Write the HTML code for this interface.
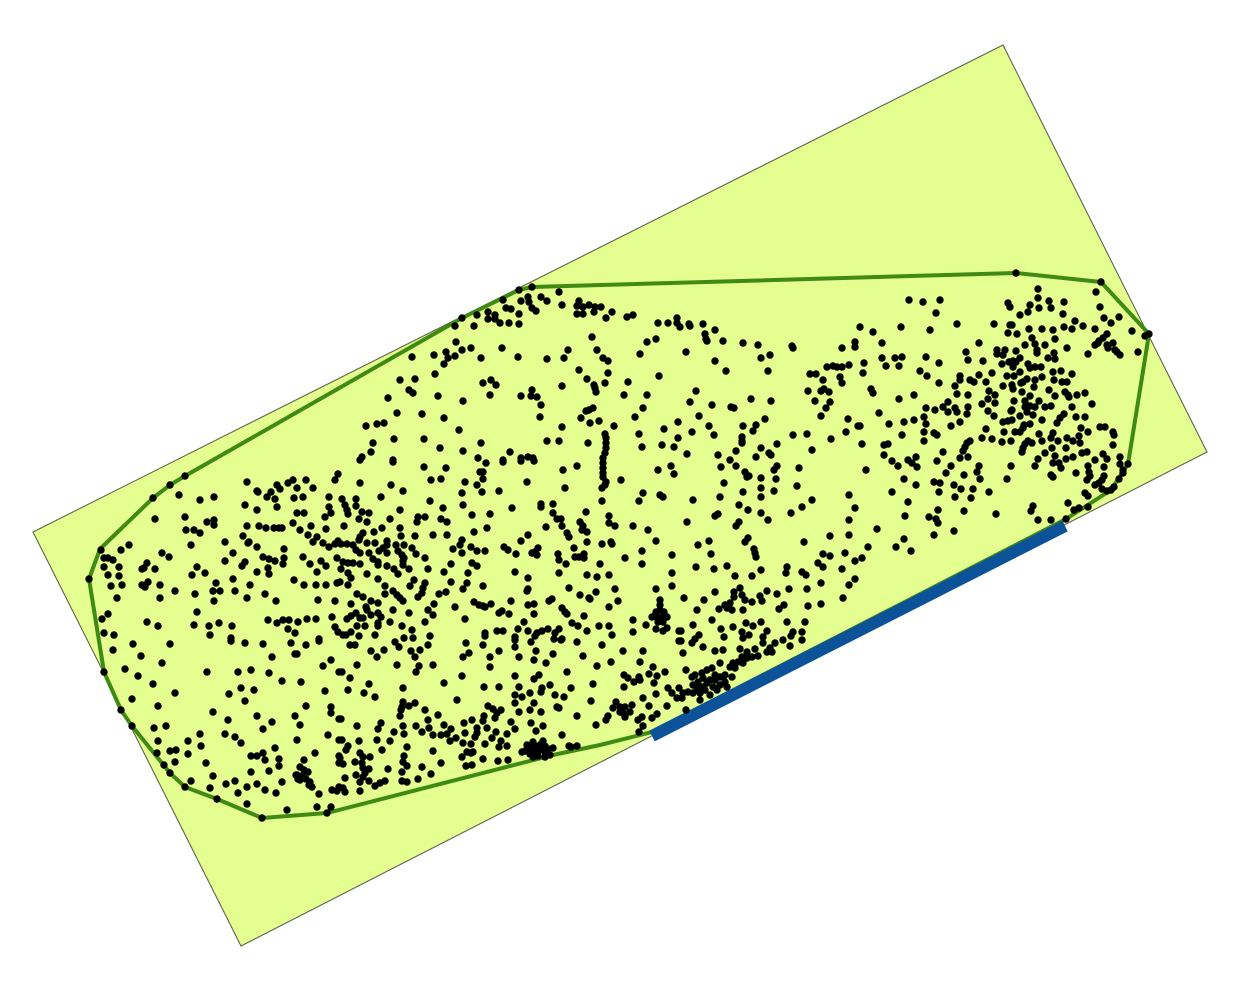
<!DOCTYPE html>
<html lang="en">
<head>
<meta charset="utf-8">
<title>Minimum bounding rectangle of a point cloud</title>
<style>
html,body{margin:0;padding:0;background:#fff;width:1242px;height:986px;overflow:hidden}
svg{display:block}
</style>
</head>
<body>
<svg id="chart" xmlns="http://www.w3.org/2000/svg" width="1242" height="986" viewBox="0 0 1242 986"></svg>
<script>
const xDomain = [0, 1242];
const yDomain = [0, 986];
const rectangleCorners = [[1003,45],[1207,452],[241,946],[33,532]];
const flushEdge = [[652,736],[1065,526]];
const hullVertices = [[100,549],[89,579],[104,672],[121,710],[132,726],[170,773],[185,787],[217,799],[262,818],[327,813],[553,755],[600,745],[652,732],[1066,519],[1111,490],[1128,464],[1149,334],[1101,282],[1016,273],[532,287],[519,290],[462,318],[185,476],[170,485],[153,498]];

const pointsWest = [[185,476],[170,485],[153,498],[179,495],[200,500],[214,497],[247,482],[257,491],[258,492],[271,492],[267,497],[277,485],[275,499],[277,507],[245,505],[257,510],[155,519],[185,517],[207,522],[214,520],[214,525],[247,526],[259,526],[266,528],[274,528],[279,528],[186,530],[194,530],[200,533],[243,536],[248,543],[249,542],[225,542],[191,545],[257,547],[101,550],[121,550],[129,545],[162,553],[169,557],[233,553],[263,557],[269,559],[275,561],[104,558],[108,558],[113,560],[225,561],[245,562],[242,566],[147,563],[104,567],[119,567],[197,567],[142,569],[144,568],[155,569],[268,568],[257,572],[269,574],[192,575],[205,573],[108,575],[119,576],[89,579],[233,579],[148,582],[142,585],[145,587],[111,586],[122,585],[160,585],[216,583],[250,585],[175,591],[213,591],[220,591],[235,591],[195,594],[265,594],[160,598],[117,598],[247,598],[214,601],[276,601],[197,612],[108,614],[102,619],[147,622],[158,626],[194,625],[209,626],[219,623],[232,626],[268,620],[277,623],[104,633],[114,635],[210,635],[231,638]];

const pointsSouthWest = [[113,650],[133,644],[170,644],[141,656],[162,663],[231,641],[245,643],[263,644],[291,643],[306,645],[319,641],[272,657],[295,654],[297,654],[331,660],[323,666],[104,672],[125,669],[138,676],[153,684],[207,672],[238,672],[251,670],[269,673],[282,681],[301,682],[339,672],[241,688],[254,690],[229,694],[175,693],[325,691],[132,699],[245,701],[158,706],[306,706],[331,707],[331,713],[121,710],[213,712],[257,716],[295,716],[339,719],[228,720],[272,722],[300,725],[132,726],[154,728],[166,726],[263,729],[200,734],[225,734],[235,737],[328,735],[158,741],[188,741],[241,743],[297,740],[339,740],[201,746],[275,748],[170,751],[176,750],[157,753],[188,754],[315,753],[251,756],[257,756],[263,753],[265,760],[279,759],[304,760],[339,756],[339,763],[175,762],[206,763],[164,765],[279,766],[269,771],[251,772],[170,773],[300,767],[304,770],[297,775],[302,776],[308,772],[300,780],[306,779],[310,782],[309,785],[312,787],[296,775],[298,779],[213,776],[191,781],[235,781],[185,787],[226,784],[257,784],[282,782],[247,787],[210,788],[265,790],[238,793],[276,793],[319,794],[332,790],[337,791],[339,787],[217,799],[247,804],[317,807],[331,807],[287,810],[327,813],[262,818]];

const pointsMidWest = [[360,460],[393,462],[424,467],[446,468],[480,472],[338,474],[335,480],[293,480],[288,483],[306,480],[297,488],[313,488],[280,489],[360,483],[391,485],[403,491],[431,480],[441,479],[465,482],[477,485],[462,493],[381,497],[329,497],[303,497],[294,498],[342,499],[356,499],[345,505],[347,510],[348,514],[356,506],[329,507],[331,513],[325,517],[362,512],[369,513],[359,519],[297,513],[304,513],[400,510],[430,501],[463,505],[443,508],[472,515],[390,519],[367,522],[418,517],[417,522],[425,517],[441,519],[447,522],[293,523],[344,526],[311,526],[282,528],[326,529],[300,530],[382,528],[400,528],[474,532],[374,532],[308,535],[363,533],[360,537],[359,540],[317,537],[313,542],[401,536],[415,536],[433,535],[447,535],[323,543],[329,547],[338,541],[335,544],[341,544],[347,544],[353,545],[367,543],[375,543],[387,541],[387,545],[396,545],[404,545],[462,540],[460,545],[471,547],[383,548],[379,551],[356,550],[360,553],[369,553],[412,548],[416,554],[398,551],[402,555],[404,558],[453,549],[462,553],[477,551],[284,549],[284,558],[387,553],[303,557],[337,558],[373,559],[378,562],[378,565],[425,558],[343,562],[348,563],[353,563],[321,561],[326,566],[310,564],[283,564],[360,564],[403,561],[403,565],[387,566],[394,569],[398,574],[409,569],[451,564],[472,563],[477,566],[341,569],[428,569],[317,572],[444,572],[348,573],[351,578],[367,574],[468,573],[378,579],[294,580],[414,580],[410,586],[425,583],[423,588],[451,582],[467,583],[463,589],[304,585],[316,585],[326,585],[337,583],[340,582],[348,585],[385,586],[393,591],[397,595],[400,598],[403,601],[385,594],[357,594],[363,597],[422,593],[418,597],[439,594],[446,592],[318,600],[335,601],[371,601],[378,603],[351,604],[366,607],[434,604],[474,602],[479,605],[455,607],[428,610],[433,615],[393,610],[356,613],[351,616],[347,619],[367,610],[371,615],[363,618],[360,618],[378,613],[381,617],[378,623],[378,626],[409,613],[332,617],[465,619],[307,619],[316,619],[298,622],[289,620],[283,620],[390,622],[425,622],[365,626],[357,626],[402,626],[335,627],[338,632],[343,635],[351,632],[346,635],[288,629],[295,633],[412,630],[375,635],[359,636],[404,638],[413,638],[430,636],[319,639]];

const pointsSouth = [[350,645],[355,645],[371,651],[384,650],[377,657],[395,642],[399,647],[411,651],[415,657],[420,650],[428,645],[466,643],[483,645],[469,653],[463,657],[499,651],[490,657],[515,647],[519,657],[531,642],[536,651],[534,660],[515,640],[553,654],[546,663],[577,642],[583,656],[561,640],[357,665],[397,665],[419,666],[416,672],[433,665],[490,667],[567,672],[597,666],[342,672],[350,678],[462,676],[515,676],[539,675],[534,679],[444,683],[369,684],[403,688],[484,687],[499,687],[519,687],[550,685],[571,688],[593,684],[348,690],[364,693],[375,697],[542,688],[541,692],[530,693],[515,695],[522,697],[555,695],[564,697],[457,700],[515,703],[534,703],[591,701],[403,702],[402,707],[401,710],[415,703],[409,706],[488,706],[493,709],[501,710],[497,713],[495,718],[557,707],[559,708],[425,710],[519,712],[530,710],[541,712],[438,715],[400,716],[577,716],[484,716],[483,721],[472,720],[464,723],[341,719],[428,720],[511,722],[381,723],[378,729],[531,723],[357,726],[403,726],[416,726],[444,725],[487,728],[543,726],[596,725],[429,728],[477,728],[477,733],[475,737],[515,729],[536,731],[465,733],[394,732],[422,732],[433,735],[451,729],[447,734],[441,735],[496,732],[404,734],[507,734],[562,735],[492,738],[456,738],[450,741],[342,740],[359,741],[377,740],[390,741],[501,741],[499,747],[507,746],[463,743],[471,744],[485,744],[348,746],[346,750],[407,747],[569,746],[571,747],[577,746],[382,750],[433,751],[467,752],[473,752],[471,753],[525,751],[530,748],[530,754],[527,745],[533,742],[535,746],[535,752],[538,756],[540,745],[540,750],[543,741],[545,746],[545,752],[548,749],[550,755],[553,748],[545,757],[533,757],[522,752],[360,753],[355,762],[370,757],[363,757],[340,758],[343,764],[404,756],[403,762],[407,766],[462,757],[483,759],[498,761],[508,760],[441,763],[362,763],[363,768],[369,769],[365,773],[466,766],[472,765],[388,769],[422,767],[402,772],[431,774],[356,775],[345,778],[418,779],[402,781],[407,782],[369,781],[360,782],[363,777],[385,781],[380,783],[375,786],[343,788],[345,792],[360,791]];

const pointsNorthCentral = [[532,287],[519,290],[559,292],[528,297],[521,301],[529,302],[532,308],[536,311],[503,300],[541,297],[547,301],[562,305],[579,301],[577,306],[589,305],[595,307],[601,307],[583,307],[506,308],[511,309],[488,312],[495,315],[477,315],[462,318],[519,314],[577,314],[583,314],[594,312],[612,312],[606,318],[488,319],[495,319],[500,323],[509,323],[519,324],[474,326],[455,326],[592,337],[456,342],[471,348],[502,348],[462,350],[446,352],[455,356],[448,358],[444,364],[434,355],[412,357],[481,358],[518,357],[547,359],[564,358],[568,350],[597,350],[603,358],[608,361],[579,370],[608,373],[435,374],[415,379],[400,380],[587,379],[491,380],[496,385],[483,383],[605,383],[594,385],[595,388],[596,392],[562,386],[409,390],[413,393],[532,390],[531,396],[537,397],[490,395],[438,396],[521,396],[388,398],[463,401],[541,405],[593,408],[589,410],[586,411],[397,413],[422,414],[444,418],[540,417],[581,418],[599,421],[590,423],[366,426],[377,424],[384,423],[562,427],[614,426],[459,430],[605,434],[606,438],[606,443],[606,448],[605,453],[603,458],[394,439],[424,439],[547,441],[559,441],[588,443],[373,443],[481,443],[440,448],[371,452],[463,451],[510,452],[528,457],[521,458],[533,458],[478,458],[503,460],[393,460],[362,457]];

const pointsCentral = [[486,463],[503,462],[521,461],[534,461],[577,466],[563,470],[603,463],[603,468],[603,473],[603,477],[606,482],[605,485],[602,488],[658,470],[671,466],[674,474],[621,480],[483,472],[483,479],[527,482],[565,488],[499,491],[482,492],[643,493],[639,501],[660,495],[663,497],[602,501],[541,504],[541,507],[553,504],[512,508],[553,513],[586,512],[609,516],[490,514],[557,519],[561,519],[580,522],[609,523],[615,526],[633,526],[583,526],[546,527],[562,526],[487,528],[648,530],[582,530],[587,532],[567,533],[569,537],[528,535],[521,541],[656,541],[587,542],[602,544],[611,542],[612,544],[504,547],[508,550],[538,548],[532,553],[537,555],[535,552],[574,548],[485,551],[642,551],[516,554],[558,554],[559,560],[584,554],[584,558],[575,557],[579,557],[625,558],[672,555],[600,564],[642,564],[566,564],[515,572],[559,573],[672,573],[587,575],[609,575],[597,577],[528,578],[483,586],[569,588],[615,589],[656,589],[672,586],[528,589],[527,591],[596,592],[580,595],[589,598],[590,599],[552,599],[549,601],[618,601],[511,601],[491,604],[483,606],[485,607],[528,605],[534,604],[609,607],[562,608],[565,612],[567,614],[502,611],[499,613],[509,614],[534,614],[584,616],[660,600],[660,605],[656,612],[660,610],[664,612],[652,617],[657,617],[662,617],[667,617],[658,622],[663,622],[633,620],[524,622],[646,625],[572,623],[578,626],[599,626],[609,626],[667,628],[656,629],[663,631],[518,629],[497,631],[503,631],[548,629],[542,631],[537,633],[535,636],[528,631],[559,629],[555,633],[587,631],[633,632],[485,633],[485,636],[612,635],[679,631],[515,637],[554,639],[562,639],[602,645],[679,641]];

const pointsSouthEastCluster = [[715,592],[684,598],[704,600],[740,588],[734,592],[734,597],[742,595],[745,600],[752,602],[760,596],[762,601],[767,591],[777,594],[789,589],[807,589],[730,603],[725,605],[727,608],[732,610],[719,609],[743,610],[697,610],[808,606],[784,605],[779,609],[712,620],[761,622],[787,622],[805,622],[746,623],[753,626],[693,625],[733,627],[721,629],[681,631],[767,631],[802,632],[793,632],[791,636],[742,632],[749,635],[743,638],[724,637],[699,635],[695,639],[692,643],[802,640],[783,640],[681,641],[763,637],[763,643],[775,643],[770,648],[767,652],[772,652],[790,646],[703,647],[683,653],[715,651],[723,650],[740,649],[755,649],[747,652],[758,656],[752,657],[742,657],[747,658],[738,662],[733,663],[730,667],[743,663],[735,668],[720,663],[686,670],[712,668],[707,670],[702,673],[695,675],[692,677],[732,677],[725,675],[720,677],[715,675],[710,680],[703,678],[698,682],[693,685],[725,682],[720,685],[713,687],[705,690],[700,693],[693,693],[688,692],[683,693],[700,700],[710,695],[717,690],[707,683],[697,688],[702,687],[715,680],[727,687],[679,688],[672,693],[668,688],[677,698],[682,698],[686,710],[624,675],[628,678],[634,682],[639,677],[640,680],[653,667],[649,674],[657,676],[665,672],[654,683],[640,662],[611,662],[623,651],[643,651],[624,687],[643,698],[656,694],[649,706],[667,706],[616,702],[613,708],[620,707],[625,707],[632,705],[630,712],[623,713],[620,712],[625,717],[608,716],[606,720],[657,714],[652,718],[642,717],[638,720],[643,726],[639,732]];

const pointsNorthEastCentral = [[627,317],[633,315],[658,323],[668,323],[677,318],[677,323],[680,327],[689,324],[690,326],[703,324],[715,330],[705,334],[706,339],[707,341],[656,339],[647,342],[723,341],[743,343],[758,345],[792,346],[793,348],[842,348],[855,342],[855,347],[860,327],[640,354],[686,352],[770,355],[761,358],[715,361],[827,367],[833,366],[837,367],[842,367],[849,365],[726,371],[768,371],[659,376],[810,374],[816,374],[840,377],[842,383],[823,380],[628,382],[696,391],[808,391],[821,391],[824,389],[829,392],[624,395],[647,395],[751,399],[771,401],[815,401],[830,402],[690,402],[712,405],[731,407],[734,408],[826,408],[643,408],[699,416],[821,416],[635,417],[765,419],[848,419],[678,422],[756,425],[753,431],[743,426],[709,426],[664,429],[858,426],[692,432],[639,434],[714,435],[846,432],[793,435],[807,434],[678,438],[831,439],[742,437],[742,441],[742,443],[777,444],[662,445],[674,447],[642,447],[761,448],[736,451],[812,450],[769,453],[771,455],[687,454],[718,455],[756,457],[730,460],[736,466],[777,466],[774,470],[721,467],[799,468]];

const pointsEastCentral = [[745,472],[747,477],[749,476],[761,478],[776,479],[866,470],[904,479],[916,485],[724,483],[761,488],[797,486],[743,492],[774,491],[892,492],[720,497],[761,497],[849,495],[693,500],[812,500],[908,502],[739,505],[802,507],[855,508],[748,510],[761,513],[791,513],[718,514],[715,516],[905,516],[768,520],[849,520],[687,522],[739,522],[736,526],[877,529],[830,536],[849,535],[748,538],[745,542],[709,541],[904,539],[804,542],[698,545],[868,547],[896,547],[911,551],[754,549],[755,553],[756,557],[845,553],[711,554],[823,554],[830,556],[862,558],[855,561],[818,563],[823,567],[727,566],[787,567],[786,573],[696,567],[714,569],[842,569],[761,570],[802,572],[806,575],[735,576],[752,576],[855,579],[821,583],[849,585],[843,598],[821,604]];

const pointsEast = [[923,302],[909,300],[940,300],[936,313],[901,327],[957,324],[994,324],[873,332],[930,330],[882,343],[979,343],[966,352],[997,350],[997,354],[882,358],[895,358],[902,357],[926,357],[939,363],[968,360],[983,361],[864,363],[886,366],[899,366],[863,373],[920,371],[927,376],[979,375],[992,373],[960,376],[960,380],[939,383],[970,380],[974,382],[986,382],[955,386],[871,389],[873,393],[989,391],[957,394],[914,395],[968,395],[995,395],[899,399],[988,399],[995,403],[948,402],[982,404],[926,408],[935,410],[943,407],[968,407],[955,408],[957,412],[948,412],[988,411],[879,413],[967,414],[994,416],[924,417],[914,420],[904,422],[960,422],[926,424],[889,424],[860,426],[951,426],[986,429],[924,432],[934,433],[937,435],[902,435],[982,438],[992,439],[970,441],[967,443],[965,447],[963,451],[924,441],[862,444],[888,444],[884,445],[943,452],[916,457],[884,455],[968,457],[960,458],[908,460],[912,463],[937,461],[892,461],[898,466],[917,467],[951,466],[979,466],[977,472],[946,473],[964,475],[980,479],[934,482],[940,483],[954,485],[961,489],[973,489],[989,492],[939,492],[955,497],[971,498],[938,510],[964,511],[996,514],[929,517],[936,519],[938,523],[954,531],[934,535]];

const pointsNorthEast = [[1016,273],[1101,282],[1096,292],[1038,289],[1038,298],[1049,301],[1064,302],[1008,303],[1010,307],[1030,305],[1039,308],[1051,308],[1100,307],[1028,312],[1020,315],[1063,314],[1104,318],[1119,317],[1111,323],[1075,321],[1010,325],[1008,333],[1012,325],[1064,327],[1072,329],[1083,326],[1095,329],[1029,329],[1042,329],[1053,330],[1132,331],[1017,334],[1149,334],[1145,336],[1107,334],[1103,338],[1099,341],[1095,345],[1098,343],[1113,343],[1107,345],[1108,348],[1115,350],[1120,355],[1117,352],[1032,338],[1055,339],[1035,344],[1025,345],[1045,345],[1067,348],[1037,350],[1037,353],[1005,350],[1003,355],[1016,351],[1054,353],[1048,358],[1055,359],[1088,354],[1138,352],[1020,358],[1013,361],[1009,362],[1002,364],[1013,367],[1016,362],[1028,364],[1030,368],[1035,367],[1041,367],[1061,371],[1053,372],[1072,374],[1020,372],[1007,376],[1014,376],[1042,377],[1054,380],[1027,379],[1023,382],[1021,383],[1035,380],[1062,382],[1067,382],[1003,386],[1012,385],[1013,389],[1034,387],[1049,390],[1022,392],[1065,392],[1068,395],[1069,397],[1077,395],[1085,393],[1030,396],[1055,396],[1014,401],[1039,401],[1025,401],[1092,404],[1025,407],[1030,406],[1035,407],[1045,407],[1051,406],[1072,407],[1012,410]];

const pointsFarEast = [[1011,411],[1033,415],[1027,412],[1020,416],[1064,414],[1060,418],[1057,423],[1076,417],[1085,417],[1042,420],[1012,420],[1003,422],[1008,421],[1030,424],[1024,425],[1081,428],[1100,427],[1105,427],[1113,432],[1114,435],[1023,428],[1020,432],[1015,432],[1004,432],[1088,432],[1039,434],[1042,441],[1053,433],[1051,438],[1079,436],[1067,438],[1073,441],[1058,441],[1113,445],[1002,442],[1011,441],[1028,441],[1025,444],[1032,443],[1023,448],[1022,452],[1080,443],[1052,448],[1045,453],[1066,448],[1087,452],[1082,453],[1038,459],[1103,454],[1107,459],[1055,456],[1066,459],[1073,457],[1095,460],[1120,457],[1128,464],[1120,464],[1123,470],[1123,473],[1011,466],[1053,463],[1059,463],[1061,468],[1035,466],[1088,466],[1089,472],[1090,476],[1087,480],[1104,467],[1076,473],[1051,475],[1053,477],[1104,476],[1102,480],[1095,485],[1099,483],[1007,479],[1119,479],[1102,489],[1107,491],[1111,490],[1114,487],[1085,493],[1088,496],[1068,503],[1033,506],[1031,511],[1088,507],[1079,508],[1074,510],[1038,520],[1051,520],[1066,519]];

const SVG_NS = 'http://www.w3.org/2000/svg';
const WIDTH = 1242;
const HEIGHT = 986;
const xScale = v => (v - xDomain[0]) / (xDomain[1] - xDomain[0]) * WIDTH;
const yScale = v => (v - yDomain[0]) / (yDomain[1] - yDomain[0]) * HEIGHT;
const toPath = pts => pts.map(p => xScale(p[0]) + ',' + yScale(p[1])).join(' ');
const chart = document.getElementById('chart');

const rectangle = document.createElementNS(SVG_NS, 'polygon');
rectangle.setAttribute('points', toPath(rectangleCorners));
rectangle.setAttribute('fill', '#e4fe8f');
rectangle.setAttribute('stroke', '#5c6450');
rectangle.setAttribute('stroke-width', '1.1');


chart.appendChild(rectangle);

const hull = document.createElementNS(SVG_NS, 'polygon');
hull.setAttribute('points', toPath(hullVertices));
hull.setAttribute('fill', 'none');
hull.setAttribute('stroke', '#3f8a12');
hull.setAttribute('stroke-width', '4');
hull.setAttribute('stroke-linejoin', 'round');


chart.appendChild(hull);

const edge = document.createElementNS(SVG_NS, 'line');
edge.setAttribute('x1', xScale(flushEdge[0][0]));
edge.setAttribute('y1', yScale(flushEdge[0][1]));
edge.setAttribute('x2', xScale(flushEdge[1][0]));
edge.setAttribute('y2', yScale(flushEdge[1][1]));
edge.setAttribute('stroke', '#0c5298');
edge.setAttribute('stroke-width', '12');


chart.appendChild(edge);

const pointGroup = document.createElementNS(SVG_NS, 'g');


chart.appendChild(pointGroup);

const allPoints = [].concat(pointsWest, pointsSouthWest, pointsMidWest, pointsSouth, pointsNorthCentral, pointsCentral, pointsSouthEastCluster, pointsNorthEastCentral, pointsEastCentral, pointsEast, pointsNorthEast, pointsFarEast);
allPoints.forEach(p => {
  const dot = document.createElementNS(SVG_NS, 'circle');
  dot.setAttribute('cx', xScale(p[0]));
  dot.setAttribute('cy', yScale(p[1]));
  dot.setAttribute('r', '3.7');
  dot.setAttribute('fill', '#000');
  
  
  pointGroup.appendChild(dot);
});
</script>
</body>
</html>
